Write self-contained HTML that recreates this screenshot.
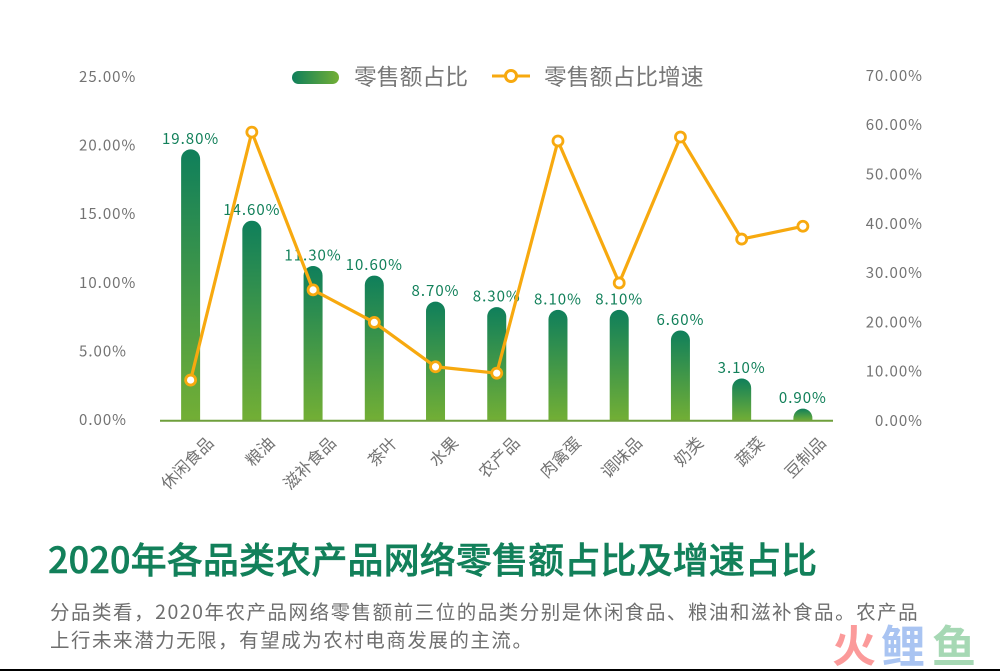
<!DOCTYPE html>
<html lang="zh-CN">
<head>
<meta charset="utf-8">
<title>2020年各品类农产品网络零售额占比及增速占比</title>
<style>
html,body{margin:0;padding:0;background:#fff;}
body{width:1000px;height:671px;overflow:hidden;position:relative;}
svg{display:block;position:absolute;left:0;top:0;}
text{font-family:"Noto Sans CJK SC","Liberation Sans",sans-serif;}
.tick{font-size:15px;fill:#737373;letter-spacing:1px;}
.val{font-size:15px;fill:#12805a;letter-spacing:1px;text-anchor:middle;}
.cat{font-size:16.5px;fill:#737373;text-anchor:end;}
.leg{font-size:22.8px;fill:#777;}
</style>
</head>
<body>
<svg id="chart" width="1000" height="671" viewBox="0 0 1000 671" xmlns="http://www.w3.org/2000/svg">
  <defs>
    <linearGradient id="barGrad" x1="0" y1="0" x2="0" y2="1">
      <stop offset="0" stop-color="#0f7f5b"/>
      <stop offset="1" stop-color="#73af35"/>
    </linearGradient>
    <linearGradient id="legGrad" x1="0" y1="0" x2="1" y2="0">
      <stop offset="0" stop-color="#0f7f5b"/>
      <stop offset="1" stop-color="#73af35"/>
    </linearGradient>
  </defs>
  <rect x="0" y="0" width="1000" height="671" fill="#fff"/>
  <g id="bars"></g>
  <g id="leftTicks"></g>
  <g id="rightTicks"></g>
  <line x1="160" y1="420.7" x2="833" y2="420.7" stroke="#6f9f3c" stroke-width="2"/>
  <g id="cats"></g>
  <g id="vals"></g>
  <g id="line"></g>

  <g>
    <rect x="292" y="71" width="47" height="13" rx="6.5" fill="url(#legGrad)"/>
    <text class="leg" x="354" y="85">零售额占比</text>
  </g>
  <g>
    <line x1="492" y1="76" x2="530" y2="76" stroke="#f7a90f" stroke-width="3"/>
    <circle cx="511" cy="76" r="5.5" fill="#fff" stroke="#f7a90f" stroke-width="3"/>
    <text class="leg" x="544" y="85">零售额占比增速</text>
  </g>

  <text x="48" y="573" font-size="36" font-weight="500" letter-spacing="0.14" fill="#12805a" stroke="#12805a" stroke-width="0.5">2020年各品类农产品网络零售额占比及增速占比</text>
  <text x="50" y="619" font-size="19.5" letter-spacing="1.52" fill="#6e6e6e">分品类看，2020年农产品网络零售额前三位的品类分别是休闲食品、粮油和滋补食品。农产品</text>
  <text x="50" y="647" font-size="19.5" letter-spacing="1.52" fill="#6e6e6e">上行未来潜力无限，有望成为农村电商发展的主流。</text>

  <g font-size="44" font-weight="700">
    <text x="832" y="662" fill="#fb9a9a">火</text>
    <text x="881" y="662" fill="#a9c4f2">鲤</text>
    <text x="932" y="662" fill="#a6d8b4">鱼</text>
  </g>
  <rect x="0" y="669" width="1000" height="2" fill="#000"/>
</svg>
<script>
const categories = ["休闲食品","粮油","滋补食品","茶叶","水果","农产品","肉禽蛋","调味品","奶类","蔬菜","豆制品"];
const shareValues = [19.8,14.6,11.3,10.6,8.7,8.3,8.1,8.1,6.6,3.1,0.9];
const growthValues = [8.3,58.6,26.6,20.0,11.0,9.7,56.8,28.0,57.6,36.9,39.5];
const leftTickValues = [0,5,10,15,20,25];
const rightTickValues = [0,10,20,30,40,50,60,70];

const NS = "http://www.w3.org/2000/svg";
const plotLeft = 160, plotRight = 833.5, baseY = 421;
const band = (plotRight - plotLeft) / categories.length;
const barW = 19;
function xAt(i){ return plotLeft + band * (i + 0.5); }
function yLeft(v){ return baseY - v * 13.72; }
function yRight(v){ return baseY - v * 4.93; }
function mk(tag, parent){
  const el = document.createElementNS(NS, tag);
  parent.appendChild(el);
  return el;
}
const barsG = document.getElementById("bars");
const valsG = document.getElementById("vals");
const catsG = document.getElementById("cats");
const lineG = document.getElementById("line");
const leftG = document.getElementById("leftTicks");
const rightG = document.getElementById("rightTicks");

leftTickValues.forEach(function(v){
  const t = mk("text", leftG);
  
  
  t.setAttribute("class", "tick");
  t.setAttribute("x", 79);
  t.setAttribute("y", yLeft(v) + 4);
  t.textContent = v.toFixed(2) + "%";
});
rightTickValues.forEach(function(v){
  const t = mk("text", rightG);
  
  
  t.setAttribute("class", "tick");
  t.setAttribute("x", 923);
  t.setAttribute("text-anchor", "end");
  t.setAttribute("y", yRight(v) + 5);
  t.textContent = v.toFixed(2) + "%";
});

categories.forEach(function(c, i){
  const x = xAt(i), top = yLeft(shareValues[i]), r = barW / 2;
  const h = baseY - top;
  const rad = Math.min(r, h);
  const b = mk("path", barsG);
  
  
  b.setAttribute("d", "M" + (x - r) + " " + baseY + "V" + (top + rad) + "A" + r + " " + rad + " 0 0 1 " + (x + r) + " " + (top + rad) + "V" + baseY + "Z");
  b.setAttribute("fill", "url(#barGrad)");

  const t = mk("text", valsG);
  
  
  t.setAttribute("class", "val");
  t.setAttribute("x", x);
  t.setAttribute("y", top - 5.5);
  t.textContent = shareValues[i].toFixed(2) + "%";

  const l = mk("text", catsG);
  
  
  l.setAttribute("class", "cat");
  l.setAttribute("transform", "translate(" + (x + 24) + " 444) rotate(-45)");
  l.textContent = c;
});

const poly = mk("polyline", lineG);


poly.setAttribute("fill", "none");
poly.setAttribute("stroke", "#f7a90f");
poly.setAttribute("stroke-width", "3.2");
poly.setAttribute("stroke-linejoin", "round");
poly.setAttribute("points", growthValues.map(function(v, i){ return xAt(i) + "," + yRight(v); }).join(" "));
growthValues.forEach(function(v, i){
  const p = mk("circle", lineG);
  
  
  p.setAttribute("cx", xAt(i));
  p.setAttribute("cy", yRight(v));
  p.setAttribute("r", 5);
  p.setAttribute("fill", "#fff");
  p.setAttribute("stroke", "#f7a90f");
  p.setAttribute("stroke-width", "2.8");
});
</script>
</body>
</html>
